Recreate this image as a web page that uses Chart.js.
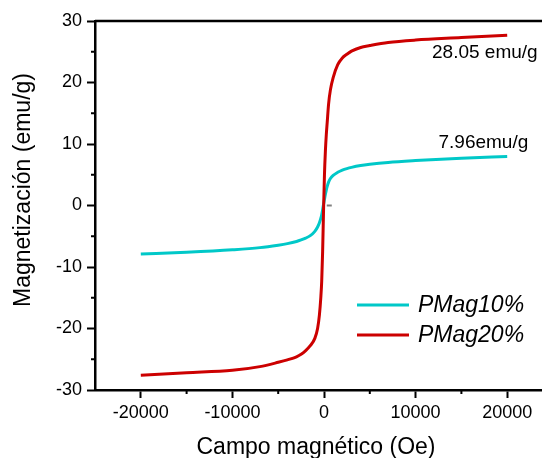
<!DOCTYPE html>
<html lang="es">
<head>
    <meta charset="utf-8"/>
    <script src="https://cdn.jsdelivr.net/npm/chart.js@4.4.0/dist/chart.umd.min.js"></script>
    <style>
        body { margin: 0; overflow: hidden; background: #fff; }
        #wrap { width: 560px; height: 458px; }
    </style>
</head>
<body>
    <div id="wrap"><canvas id="chart" width="560" height="458"></canvas></div>
    <script>
        // campo magnetico (Oe) and magnetizacion (emu/g)
        const fieldOe = [-20000, -15000, -10000, -7000, -5000, -4000, -3000, -2500, -2000, -1500, -1000, -700, -500,
                         -350, -250, -150, -50, 50, 150, 250, 350, 500, 700, 1000, 1500, 2000, 2500, 3000,
                         4000, 5000, 7000, 10000, 15000, 20000];
        const pmag10 = [-7.9, -7.6, -7.2, -6.85, -6.45, -6.2, -5.85, -5.6, -5.3, -4.9, -4.2, -3.5, -2.8,
                        -2.1, -1.5, -0.7, 0.2, 1.0, 1.8, 2.5, 3.1, 3.8, 4.4, 4.9, 5.4, 5.75, 6.0, 6.2,
                        6.5, 6.7, 7.0, 7.3, 7.7, 7.96];
        const pmag20 = [-27.6, -27.2, -26.8, -26.2, -25.5, -25.1, -24.6, -24.2, -23.6, -22.8, -21.6, -20.0, -17.8,
                        -15.0, -12.3, -7.5, -0.8, 5.0, 8.8, 11.5, 13.5, 16.5, 18.8, 20.8, 22.9, 24.0, 24.6, 25.1,
                        25.7, 26.0, 26.5, 26.9, 27.3, 27.7];
        // small grey mark near the origin
        const markField = [300, 850];
        const markValue = [0, 0];

        const xTicks = [-20000, -10000, 0, 10000, 20000];
        const seriesLabels = ["PMag10%", "PMag20%"];
        const noteTexts = ["28.05 emu/g", "7.96emu/g"];
        const noteField = [17560, 17400];
        const noteValue = [24.8, 10.2];

        const FONT = "'Liberation Sans', Arial, sans-serif";

        function pts(xs, ys) {
            return xs.map((v, i) => ({x: v, y: ys[i]}));
        }

        const extras = {
            id: 'extras',
            afterDraw(chart) {
                const {ctx, chartArea: a, scales: {x, y}} = chart;
                ctx.save();
                ctx.strokeStyle = '#000';
                ctx.lineWidth = 2.5;
                ctx.beginPath();
                ctx.moveTo(a.left, a.top);
                ctx.lineTo(a.right, a.top);
                ctx.lineTo(a.right, a.bottom);
                ctx.stroke();

                // minor ticks
                ctx.lineWidth = 2;
                ctx.beginPath();
                for (let v = -15000; v <= 15000; v += 10000) {
                    const px = x.getPixelForValue(v);
                    ctx.moveTo(px, a.bottom);
                    ctx.lineTo(px, a.bottom + 4);
                }
                for (let v = -25; v <= 25; v += 10) {
                    const py = y.getPixelForValue(v);
                    ctx.moveTo(a.left, py);
                    ctx.lineTo(a.left - 4, py);
                }
                ctx.stroke();

                // axis titles
                ctx.fillStyle = '#000';
                ctx.font = '23px ' + FONT;
                ctx.textAlign = 'center';
                ctx.textBaseline = 'middle';
                ctx.fillText('Campo magnético (Oe)', 316, 448);
                ctx.save();
                ctx.translate(24, 190);
                ctx.rotate(-Math.PI / 2);
                ctx.fillText('Magnetización (emu/g)', 0, 0);
                ctx.restore();

                // value notes
                ctx.font = '19px ' + FONT;
                noteTexts.forEach((t, i) => {
                    ctx.fillText(t, x.getPixelForValue(noteField[i]), y.getPixelForValue(noteValue[i]));
                });

                // legend
                ctx.font = 'italic 23px ' + FONT;
                ctx.textAlign = 'left';
                const legendSets = chart.data.datasets.filter(d => seriesLabels.includes(d.label));
                legendSets.sort((p, q) => seriesLabels.indexOf(p.label) - seriesLabels.indexOf(q.label));
                legendSets.forEach((d, i) => {
                    const ly = 305 + i * 30;
                    ctx.strokeStyle = d.borderColor;
                    ctx.lineWidth = 3;
                    ctx.beginPath();
                    ctx.moveTo(357, ly);
                    ctx.lineTo(409, ly);
                    ctx.stroke();
                    ctx.fillText(d.label, 418, ly + 1);
                });
                ctx.restore();
            }
        };

        new Chart(document.getElementById('chart'), {
            type: 'line',
            data: {
                datasets: [
                    {
                        label: seriesLabels[1],
                        data: pts(fieldOe, pmag20),
                        borderColor: '#CC0000',
                        borderWidth: 3,
                        order: 0
                    },
                    {
                        label: seriesLabels[0],
                        data: pts(fieldOe, pmag10),
                        borderColor: '#00C8C8',
                        borderWidth: 3,
                        order: 1
                    },
                    {
                        label: 'mark',
                        data: pts(markField, markValue),
                        borderColor: '#808080',
                        borderWidth: 2,
                        order: 2
                    }
                ]
            },
            options: {
                responsive: false,
                animation: false,
                devicePixelRatio: 1,
                layout: {padding: {top: 21, right: 7, left: 0, bottom: 0}},
                elements: {
                    point: {radius: 0},
                    line: {cubicInterpolationMode: 'monotone'}
                },
                plugins: {
                    legend: {display: false},
                    tooltip: {enabled: false}
                },
                scales: {
                    x: {
                        type: 'linear',
                        min: -25000,
                        max: 25000,
                        afterBuildTicks: s => { s.ticks = xTicks.map(v => ({value: v})); },
                        afterFit: s => { s.height = 68; },
                        ticks: {maxRotation: 0, autoSkip: false, padding: 4, color: '#000',
                                font: {family: FONT, size: 18}, callback: v => String(v)},
                        grid: {drawOnChartArea: false, tickLength: 8, tickWidth: 2, tickColor: '#000'},
                        border: {color: '#000', width: 2.5}
                    },
                    y: {
                        min: -30,
                        max: 30,
                        afterFit: s => { s.width = 95; },
                        ticks: {stepSize: 10, padding: 5, color: '#000', font: {family: FONT, size: 18}},
                        grid: {drawOnChartArea: false, tickLength: 8, tickWidth: 2, tickColor: '#000'},
                        border: {color: '#000', width: 2.5}
                    }
                }
            },
            plugins: [extras]
        });
    </script>
</body>
</html>
